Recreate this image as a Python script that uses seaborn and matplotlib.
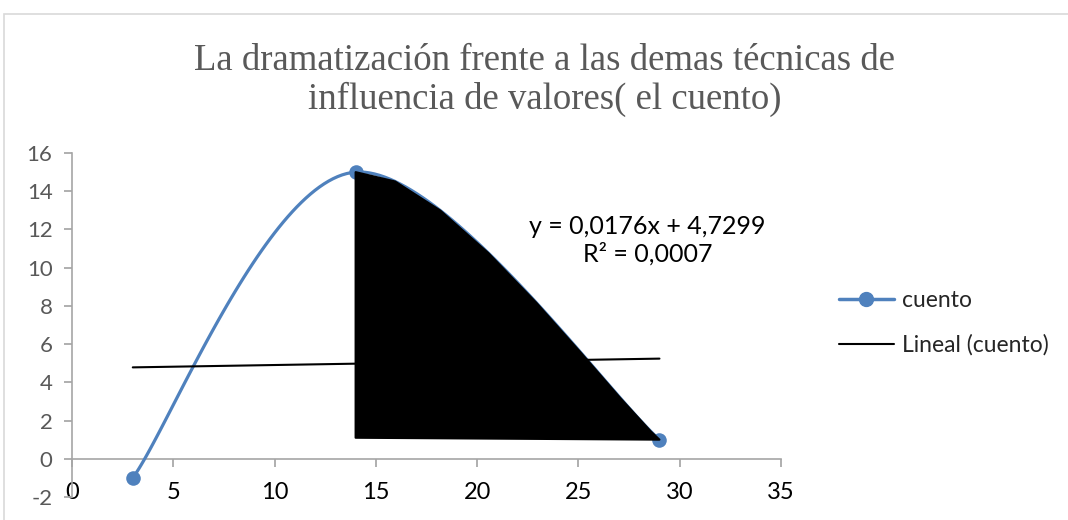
import numpy as np
import pandas as pd
import matplotlib
matplotlib.use("Agg")
import matplotlib.pyplot as plt
import seaborn as sns
from matplotlib.patches import Rectangle, Polygon
from matplotlib.lines import Line2D

# ---- data ----
x_vals = [3, 14, 29]
y_vals = [-1, 15, 1]
series_name = "cuento"
trend_name = "Lineal (cuento)"
title = "La dramatización frente a las demas técnicas de\ninfluencia de valores( el cuento)"
x_ticks = [0, 5, 10, 15, 20, 25, 30, 35]
y_ticks = [-2, 0, 2, 4, 6, 8, 10, 12, 14, 16]

BLUE = "#4F81BD"
GRAY = "#595959"

sns.set_theme(style="white")
plt.rcParams["font.family"] = ["Lato", "DejaVu Sans"]
plt.rcParams["axes.unicode_minus"] = False

fig = plt.figure(figsize=(10.68, 5.2), dpi=100)
ax = fig.add_axes([72/1068, 23/520, (781-72)/1068, (497-153)/520])

# chart-area border
fig.patches.append(Rectangle((4/1068, -0.1), 1.2, (520-14)/520 + 0.1, transform=fig.transFigure,
                             fill=False, edgecolor="#D9D9D9", linewidth=1.2))

# smooth curve (Catmull-Rom style bezier as Excel smoothing)
P = np.column_stack([x_vals, y_vals]).astype(float)
ext = np.vstack([P[0], P, P[-1]])
segs = []
t = np.linspace(0, 1, 60)[:, None]
for i in range(len(P) - 1):
    p0, p1, p2, p3 = ext[i], ext[i+1], ext[i+2], ext[i+3]
    c1 = p1 + (p2 - p0) / 6
    c2 = p2 - (p3 - p1) / 6
    b = ((1-t)**3)*p1 + 3*((1-t)**2)*t*c1 + 3*(1-t)*t**2*c2 + t**3*p2
    segs.append(b)
curve = np.vstack(segs)
df_curve = pd.DataFrame({"x": curve[:, 0], "y": curve[:, 1]})
sns.lineplot(data=df_curve, x="x", y="y", sort=False, estimator=None, ax=ax,
             color=BLUE, linewidth=2.3, zorder=3)
df_pts = pd.DataFrame({"x": x_vals, "y": y_vals})
sns.scatterplot(data=df_pts, x="x", y="y", ax=ax, color=BLUE, s=110, edgecolor=BLUE,
                linewidth=0, zorder=4)

# black filled artifact
seg2 = segs[1]
poly_pts = np.vstack([seg2[::8], seg2[-1:], [[x_vals[1], y_vals[2] + 0.1]]])
ax.add_patch(Polygon(poly_pts, closed=True, facecolor="black", edgecolor="black",
                     linewidth=1.5, zorder=5, joinstyle="round"))

# linear trend
slope, intercept = np.polyfit(x_vals, y_vals, 1)
xt = np.array([min(x_vals), max(x_vals)])
ax.plot(xt, slope*xt + intercept, color="black", linewidth=1.5, zorder=4.5)
yhat = slope*np.array(x_vals) + intercept
r2 = 1 - np.sum((np.array(y_vals)-yhat)**2)/np.sum((np.array(y_vals)-np.mean(y_vals))**2)
eq = f"y = {slope:.4f}x + {intercept:.4f}".replace(".", ",")
r2txt = f"R² = {r2:.4f}".replace(".", ",")
ax.text(28.4, 11.45, eq + "\n" + r2txt, ha="center", va="center", fontsize=18,
        color="black", linespacing=1.2, zorder=6)

# axes styling
ax.set_xlim(0, 35)
ax.set_ylim(-2, 16)
ax.set_xticks(x_ticks)
ax.set_yticks(y_ticks)
ax.set_xlabel("")
ax.set_ylabel("")
for s in ["top", "right"]:
    ax.spines[s].set_visible(False)
ax.spines["bottom"].set_position(("data", 0))
ax.spines["bottom"].set_color("#A6A6A6")
ax.spines["left"].set_color("#A6A6A6")
ax.spines["bottom"].set_linewidth(1.2)
ax.spines["left"].set_linewidth(1.2)
ax.tick_params(axis="x", direction="out", length=6, color="#A6A6A6", labelsize=17,
               labelcolor="black", pad=11, bottom=True)
ax.tick_params(axis="y", direction="out", length=6, color="#A6A6A6", labelsize=16,
               labelcolor=GRAY, pad=8, left=True)
ax.grid(False)

fig.text(545/1068, 1 - 80/520, title, ha="center", va="center", fontsize=26.5,
         family=["Liberation Serif"], color=GRAY, linespacing=1.15)

handles = [Line2D([0], [0], color=BLUE, linewidth=2.5, marker="o", markersize=10),
           Line2D([0], [0], color="black", linewidth=1.5)]
fig.legend(handles, [series_name, trend_name], loc="center left",
           bbox_to_anchor=(818/1068, 1 - 323/520), frameon=False, fontsize=16.5,
           handlelength=2.4, handletextpad=0.35, labelspacing=1.0)

fig.savefig("out.png", dpi=100)
